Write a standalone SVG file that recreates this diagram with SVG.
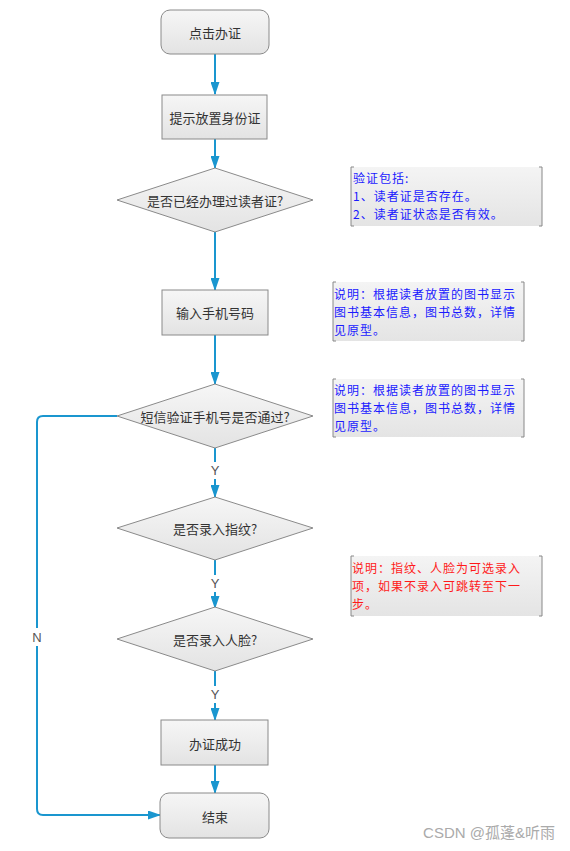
<svg xmlns="http://www.w3.org/2000/svg" width="570" height="851" viewBox="0 0 570 851">
<style>
.node{fill:url(#g);stroke:#8a8a8a;stroke-width:1}
.t{font-family:"Noto Sans CJK SC","Liberation Sans",sans-serif;font-size:13px;fill:#333;text-anchor:middle;dominant-baseline:central}
.lbl{font-family:"Liberation Sans","Noto Sans CJK SC",sans-serif;font-size:13px;fill:#555;text-anchor:middle;dominant-baseline:central}
.c{fill:none;stroke:#1a96cf;stroke-width:2}
.note{fill:url(#gn);stroke:none}
.br{fill:none;stroke:#888;stroke-width:1}
.nt{font-family:"Noto Sans CJK SC","Liberation Sans",sans-serif;font-size:12px;letter-spacing:1px;dominant-baseline:central}
</style>
<defs>
<linearGradient id="g" x1="0" y1="0" x2="0" y2="1"><stop offset="0" stop-color="#f6f6f6"/><stop offset="1" stop-color="#e3e3e3"/></linearGradient>
<linearGradient id="gn" x1="0" y1="0" x2="0" y2="1"><stop offset="0" stop-color="#f4f4f4"/><stop offset="1" stop-color="#e4e4e4"/></linearGradient>
<marker id="a" markerWidth="13" markerHeight="9" refX="12" refY="4.5" orient="auto" markerUnits="userSpaceOnUse"><path d="M0,0 L13,4.5 L0,9 Z" fill="#1a96cf"/></marker>
</defs>
<rect width="570" height="851" fill="#fff"/>
<g id="connectors">
<path class="c" d="M215,54 V94" marker-end="url(#a)"/>
<path class="c" d="M215,139 V168" marker-end="url(#a)"/>
<path class="c" d="M215,232 V290" marker-end="url(#a)"/>
<path class="c" d="M215,335 V384" marker-end="url(#a)"/>
<path class="c" d="M215,448 V462 M215,479 V497" marker-end="url(#a)"/>
<path class="c" d="M215,560 V575 M215,592 V608" marker-end="url(#a)"/>
<path class="c" d="M215,671 V686 M215,703 V720" marker-end="url(#a)"/>
<path class="c" d="M215,765 V793" marker-end="url(#a)"/>
<path class="c" d="M117,416 H43 Q37,416 37,422 V628 M37,646 V809 Q37,815 43,815 H160" marker-end="url(#a)"/>
<text class="lbl" x="215" y="470">Y</text>
<text class="lbl" x="215" y="583">Y</text>
<text class="lbl" x="215" y="694">Y</text>
<text class="lbl" x="37" y="637">N</text>
</g>
<g id="start"><rect class="node" x="161" y="10" width="108" height="44" rx="9"/><text class="t" x="215" y="32">点击办证</text></g>
<g id="idcard"><rect class="node" x="162" y="95" width="105" height="44"/><text class="t" x="215" y="117">提示放置身份证</text></g>
<g id="d1"><polygon class="node" points="215,168 313,200 215,232 117,200"/><text class="t" x="215" y="200">是否已经办理过读者证?</text></g>
<g id="phone"><rect class="node" x="162" y="290" width="106" height="45"/><text class="t" x="215" y="312">输入手机号码</text></g>
<g id="d2"><polygon class="node" points="215,384 313,416 215,448 117,416"/><text class="t" x="215" y="416">短信验证手机号是否通过?</text></g>
<g id="d3"><polygon class="node" points="215,497 313,528 215,560 117,528"/><text class="t" x="215" y="528">是否录入指纹?</text></g>
<g id="d4"><polygon class="node" points="215,607 313,639 215,671 117,639"/><text class="t" x="215" y="639">是否录入人脸?</text></g>
<g id="success"><rect class="node" x="161" y="720" width="107" height="45"/><text class="t" x="215" y="743">办证成功</text></g>
<g id="end"><rect class="node" x="160" y="793" width="109" height="45" rx="9"/><text class="t" x="215" y="816">结束</text></g>
<g id="note1">
<rect class="note" x="351" y="167" width="191" height="59"/>
<path class="br" d="M354,167 H351 V226 H354 M539,167 H542 V226 H539"/>
<text class="nt" fill="#1a1aff" x="353" y="177">验证包括:</text>
<text class="nt" fill="#1a1aff" x="353" y="195">1、读者证是否存在。</text>
<text class="nt" fill="#1a1aff" x="353" y="213">2、读者证状态是否有效。</text>
</g>
<g id="note2">
<rect class="note" x="333" y="282" width="191" height="59"/>
<path class="br" d="M336,282 H333 V341 H336 M521,282 H524 V341 H521"/>
<text class="nt" fill="#1a1aff" x="334" y="293">说明：根据读者放置的图书显示</text>
<text class="nt" fill="#1a1aff" x="334" y="311">图书基本信息，图书总数，详情</text>
<text class="nt" fill="#1a1aff" x="334" y="329">见原型。</text>
</g>
<g id="note3">
<rect class="note" x="333" y="379" width="191" height="58"/>
<path class="br" d="M336,379 H333 V437 H336 M521,379 H524 V437 H521"/>
<text class="nt" fill="#1a1aff" x="334" y="389">说明：根据读者放置的图书显示</text>
<text class="nt" fill="#1a1aff" x="334" y="407">图书基本信息，图书总数，详情</text>
<text class="nt" fill="#1a1aff" x="334" y="425">见原型。</text>
</g>
<g id="note4">
<rect class="note" x="351" y="556" width="191" height="60"/>
<path class="br" d="M354,556 H351 V616 H354 M539,556 H542 V616 H539"/>
<text class="nt" fill="#ff1a1a" x="352" y="567">说明：指纹、人脸为可选录入</text>
<text class="nt" fill="#ff1a1a" x="352" y="585">项，如果不录入可跳转至下一</text>
<text class="nt" fill="#ff1a1a" x="352" y="603">步。</text>
</g>
<text x="555" y="838" font-family="'Liberation Sans','Noto Sans CJK SC',sans-serif" font-size="15" fill="#aaa" text-anchor="end">CSDN @孤蓬&amp;听雨</text>
</svg>
